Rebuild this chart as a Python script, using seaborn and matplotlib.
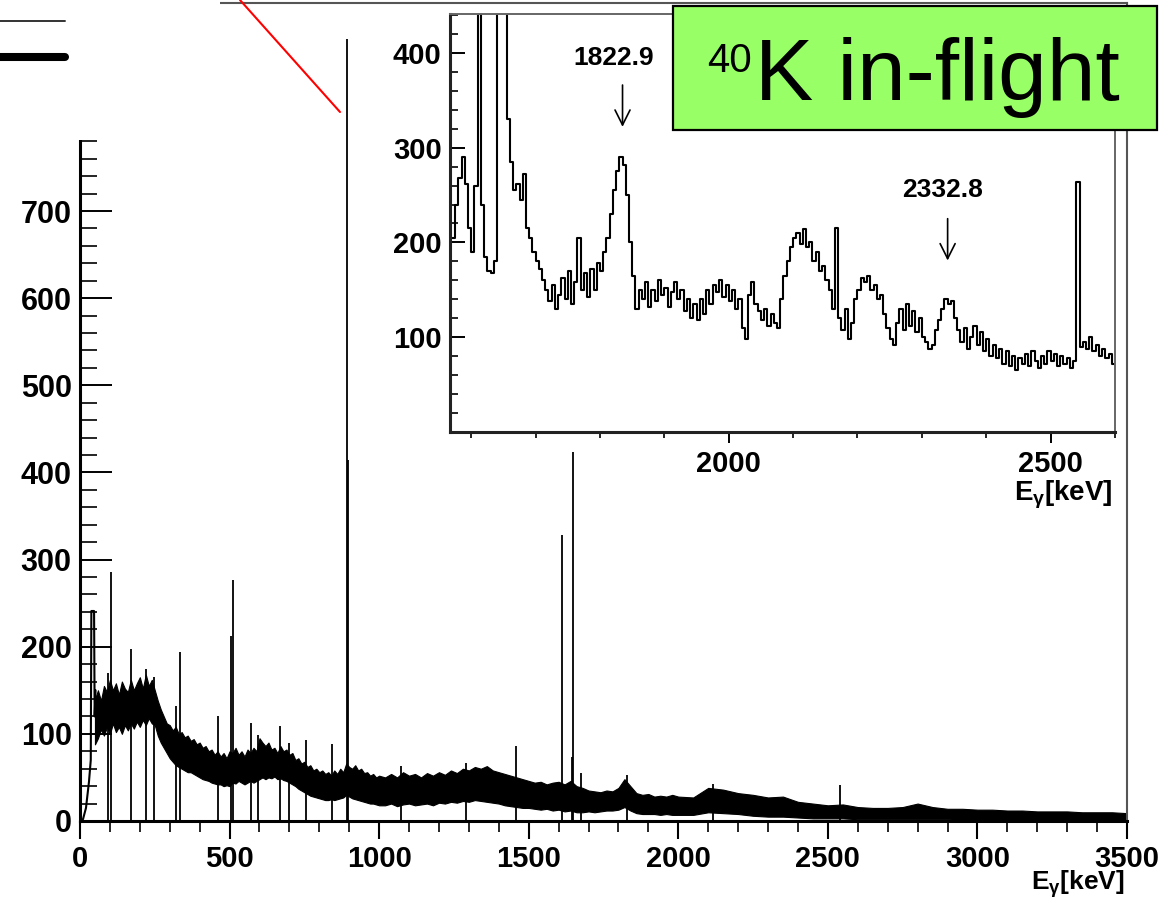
import numpy as np
import pandas as pd
import matplotlib
matplotlib.use('Agg')
import matplotlib.pyplot as plt
import seaborn as sns
from matplotlib.patches import Rectangle
from matplotlib.lines import Line2D
from matplotlib.ticker import MultipleLocator, FixedLocator

W, H = 1168, 899

# main spectrum, read as the lower / upper edge of the noise band (keV, counts)
band_e = [50, 60, 70, 80, 90, 100, 110, 120, 130, 140, 150, 160, 170, 180, 190,
          200, 210, 220, 230, 240, 250, 260, 270, 280, 290, 300, 310, 320, 330, 340,
          350, 360, 370, 380, 390, 400, 410, 420, 430, 440, 450, 460, 470, 480, 490,
          500, 510, 520, 530, 540, 550, 560, 570, 580, 590, 600, 610, 620, 630, 640,
          650, 660, 670, 680, 690, 700, 710, 720, 730, 740, 750, 760, 770, 780, 790,
          800, 810, 820, 830, 840, 850, 860, 870, 880, 890, 900, 910, 920, 930, 940,
          950, 960, 970, 980, 990, 1000,
          1020, 1040, 1060, 1080, 1100, 1120, 1140, 1160, 1180, 1200,
          1220, 1240, 1260, 1280, 1300, 1320, 1340, 1360, 1380, 1400,
          1420, 1440, 1460, 1480, 1500, 1520, 1540, 1560, 1580, 1600,
          1620, 1640, 1660, 1680, 1700, 1720, 1740, 1760, 1780, 1800,
          1820, 1840, 1860, 1880, 1900, 1920, 1940, 1960, 1980, 2000,
          2050, 2100, 2150, 2200, 2250, 2300, 2350, 2400, 2450, 2500,
          2550, 2600, 2650, 2700, 2750, 2800, 2850, 2900, 2950, 3000,
          3050, 3100, 3150, 3200, 3250, 3300, 3350, 3400, 3450, 3500]
band_hi = [140, 150, 138, 155, 148, 162, 150, 158, 145, 160, 152, 148, 162, 150, 158,
           165, 152, 168, 155, 162, 150, 138, 128, 120, 112, 110, 104, 108, 100, 102,
           96, 98, 92, 94, 88, 90, 84, 86, 80, 82, 76, 80, 74, 78, 72,
           80, 78, 84, 76, 80, 74, 82, 78, 84, 80, 95, 90, 86, 90, 82,
           84, 78, 86, 80, 82, 76, 78, 70, 72, 66, 68, 62, 64, 58, 60,
           56, 58, 54, 56, 52, 58, 54, 60, 56, 66, 62, 60, 64, 58, 60,
           55, 56, 52, 54, 50, 52,
           50, 54, 50, 56, 52, 54, 50, 55, 52, 56,
           53, 58, 55, 60, 58, 62, 60, 63, 58, 56,
           54, 52, 50, 48, 46, 44, 45, 42, 44, 45,
           42, 46, 40, 38, 35, 34, 33, 35, 34, 38,
           48, 40, 32, 30, 31, 28, 29, 28, 30, 28,
           27, 38, 36, 32, 30, 27, 28, 22, 20, 18,
           19, 16, 15, 15, 16, 20, 16, 14, 14, 13,
           13, 12, 12, 11, 11, 11, 10, 10, 10, 9]
band_lo = [88, 95, 105, 98, 108, 100, 112, 102, 108, 100, 110, 104, 112, 106, 114,
           108, 116, 110, 118, 112, 110, 98, 90, 84, 78, 72, 68, 64, 62, 60,
           58, 56, 56, 54, 52, 50, 48, 47, 46, 44, 43, 42, 42, 40, 41,
           40, 44, 43, 46, 44, 42, 44, 46, 44, 46, 48, 50, 48, 50, 49,
           51, 48, 49, 47, 46, 44, 42, 40, 37, 35, 33, 31, 29, 28, 27,
           26, 25, 24, 24, 25, 24, 25, 26, 27, 30, 28, 26, 25, 24, 23,
           22, 21, 20, 20, 19, 18,
           18, 20, 17, 19, 20, 18, 19, 20, 18, 21,
           20, 22, 21, 23, 22, 24, 23, 22, 21, 20,
           18, 17, 16, 15, 15, 14, 13, 14, 12, 13,
           11, 12, 10, 10, 11, 10, 11, 12, 12, 13,
           16, 12, 9, 8, 8, 8, 7, 8, 7, 7,
           7, 10, 9, 8, 6, 5, 5, 4, 3, 3,
           3, 2, 2, 2, 2, 2, 2, 2, 1, 1,
           1, 1, 1, 1, 1, 1, 1, 1, 1, 1]

# low-energy threshold edge of the main spectrum
thr_e = [0, 10, 20, 30, 36, 38, 47, 49, 52]
thr_c = [0, 2, 15, 45, 70, 241, 241, 120, 150]

# sharp lines sticking out of the band (keV, counts)
peak_e = [95, 105, 169, 221, 249, 322, 334, 460, 504, 511, 572, 596, 670, 697,
          755, 844, 893, 897, 1072, 1292, 1457, 1611, 1644, 1648, 1675, 1828,
          2115, 2541]
peak_h = [170, 286, 197, 174, 165, 132, 194, 120, 212, 276, 113, 99, 109, 90,
          93, 88, 897, 414, 63, 67, 86, 328, 74, 423, 55, 53,
          42, 41]

# inset spectrum, 5 keV bins starting at 1570 keV
inset_start = 1570
inset_bin = 5
inset_counts = [
    205, 240, 268, 290, 262, 215, 190, 260, 900, 240,
    185, 170, 168, 180, 600, 900, 800, 330, 285, 255,
    262, 245, 272, 215, 205, 190, 180, 172, 160, 150,
    138, 155, 130, 145, 162, 140, 170, 135, 158, 205,
    150, 168, 142, 172, 150, 178, 170, 190, 205, 230,
    255, 275, 290, 282, 250, 200, 165, 130, 150, 140,
    158, 132, 150, 138, 160, 145, 152, 132, 148, 158,
    140, 150, 128, 140, 120, 135, 118, 140, 125, 150,
    135, 155, 148, 160, 142, 155, 138, 150, 130, 140,
    110, 98, 145, 158, 135, 128, 118, 130, 112, 125,
    115, 110, 140, 165, 180, 195, 205, 210, 198, 214,
    195, 200, 180, 190, 170, 175, 160, 150, 130, 215,
    120, 108, 130, 98, 115, 140, 150, 162, 158, 165,
    150, 155, 140, 145, 125, 110, 98, 92, 115, 130,
    108, 135, 112, 128, 105, 120, 100, 95, 88, 92,
    108, 118, 130, 140, 135, 138, 120, 108, 95, 110,
    88, 100, 112, 92, 105, 85, 98, 80, 92, 78,
    88, 72, 85, 70, 80, 65, 78, 72, 82, 70,
    85, 75, 68, 80, 72, 85, 75, 82, 70, 80,
    72, 78, 68, 75, 264, 90, 95, 88, 100, 85,
    92, 80, 88, 78, 82, 72]

arrow_labels = ['1822.9', '2332.8']
arrow_e = [1835, 2340]
arrow_top = [369, 228]
arrow_tip = [319, 178]
label_e = [1822, 2332]
label_c = [395, 255]

sns.set_theme(style='ticks')
plt.rcParams['font.family'] = ['Liberation Sans', 'DejaVu Sans']
plt.rcParams['font.weight'] = 'bold'
plt.rcParams['text.color'] = 'black'
plt.rcParams['axes.labelcolor'] = 'black'
plt.rcParams['xtick.color'] = 'black'
plt.rcParams['ytick.color'] = 'black'
plt.rcParams['mathtext.fontset'] = 'custom'
plt.rcParams['mathtext.rm'] = 'Liberation Sans:bold'
plt.rcParams['mathtext.it'] = 'Liberation Sans:bold'
plt.rcParams['mathtext.bf'] = 'Liberation Sans:bold'


def fx(px):
    return px / W


def fy(py):
    return 1 - py / H


fig = plt.figure(figsize=(W / 100, H / 100), dpi=100)
fig.patch.set_facecolor('white')

# ---- main spectrum
ax = fig.add_axes([fx(80), fy(821), fx(1127) - fx(80), fy(3) - fy(821)])
ax.set_facecolor('white')
ax.fill_between(band_e, band_lo, band_hi, color='black', lw=0.8)
sns.lineplot(x=thr_e, y=thr_c, ax=ax, color='black', lw=1.5, estimator=None, sort=False)
ax.vlines(peak_e, 0, peak_h, color='black', lw=1.3)
ax.set_xlim(0, 3500)
ax.set_ylim(0, 938.7)
ax.xaxis.set_major_locator(MultipleLocator(500))
ax.xaxis.set_minor_locator(MultipleLocator(100))
ax.yaxis.set_major_locator(MultipleLocator(100))
ax.yaxis.set_minor_locator(MultipleLocator(20))
ax.tick_params(axis='y', which='major', direction='in', length=23, width=1.4, pad=6, labelsize=22)
ax.tick_params(axis='y', which='minor', direction='in', length=12, width=1.2)
ax.tick_params(axis='x', which='major', direction='out', length=13, width=1.5, pad=4, labelsize=21)
ax.tick_params(axis='x', which='minor', direction='out', length=8, width=1.2)
for s in ['left', 'bottom']:
    ax.spines[s].set_linewidth(2.2)
    ax.spines[s].set_color('black')
for s in ['top', 'right']:
    ax.spines[s].set_linewidth(1.5)
    ax.spines[s].set_color('#555555')
ax.set_xlabel('')
ax.set_ylabel('')

# ---- inset
ax_in = fig.add_axes([fx(450), fy(432), fx(1115) - fx(450), fy(14) - fy(432)])
ax_in.set_zorder(2)
ax_in.set_facecolor('white')
edges = inset_start + inset_bin * np.arange(len(inset_counts) + 1)
df_in = pd.DataFrame({'E': edges, 'N': inset_counts + [inset_counts[-1]]})
sns.lineplot(data=df_in, x='E', y='N', ax=ax_in, color='black', lw=1.5,
             drawstyle='steps-post', estimator=None, sort=False)
ax_in.set_xlim(1567, 2600)
ax_in.set_ylim(0, 441)
ax_in.xaxis.set_major_locator(FixedLocator([2000, 2500]))
ax_in.xaxis.set_minor_locator(MultipleLocator(100))
ax_in.yaxis.set_major_locator(FixedLocator([100, 200, 300, 400]))
ax_in.yaxis.set_minor_locator(MultipleLocator(20))
ax_in.tick_params(axis='y', which='major', direction='in', length=11, width=1.4, pad=6, labelsize=21)
ax_in.tick_params(axis='y', which='minor', direction='in', length=6, width=1.2)
ax_in.tick_params(axis='x', which='major', direction='out', length=8, width=1.4, pad=5, labelsize=21)
ax_in.tick_params(axis='x', which='minor', direction='out', length=4.5, width=1.2)
for s in ['left', 'bottom']:
    ax_in.spines[s].set_linewidth(2.2)
    ax_in.spines[s].set_color('#222222')
for s in ['top', 'right']:
    ax_in.spines[s].set_linewidth(1.4)
    ax_in.spines[s].set_color('#666666')
ax_in.set_xlabel('')
ax_in.set_ylabel('')

for lab, e, top, tip, le, lc in zip(arrow_labels, arrow_e, arrow_top, arrow_tip, label_e, label_c):
    ax_in.annotate('', xy=(e, tip), xytext=(e, top),
                   arrowprops=dict(arrowstyle='->,head_length=0.9,head_width=0.45',
                                   color='black', lw=1.2))
    ax_in.text(le, lc, lab, ha='center', va='center', fontsize=19, fontweight='bold')

# axis titles
fig.text(fx(1125), fy(884), r'E$_\gamma$[keV]', ha='right', va='center', fontsize=19, fontweight='bold')
fig.text(fx(1113), fy(495), r'E$_\gamma$[keV]', ha='right', va='center', fontsize=20, fontweight='bold', zorder=5)

# cropped legend corner from the original figure
fig.patches.append(Rectangle((0, fy(140)), fx(220), 140 / H, transform=fig.transFigure,
                             facecolor='white', edgecolor='none', zorder=5))
fig.lines.append(Line2D([0, fx(65)], [fy(21), fy(21)], transform=fig.transFigure,
                        color='#333333', lw=1.4, zorder=6))
fig.lines.append(Line2D([0, fx(65)], [fy(57), fy(57)], transform=fig.transFigure,
                        color='black', lw=5.8, zorder=6))
fig.lines.append(Line2D([fx(240), fx(340)], [fy(0), fy(112)], transform=fig.transFigure,
                        color='red', lw=1.5, zorder=6))

# green label box
fig.patches.append(Rectangle((fx(673), fy(130)), fx(1157) - fx(673), (130 - 6) / H,
                             transform=fig.transFigure, facecolor='#99ff66',
                             edgecolor='black', lw=1.6, zorder=7))
fig.text(fx(707), fy(72), '40', ha='left', va='baseline', fontsize=29,
         fontweight='normal', zorder=8)
fig.text(fx(755), fy(100), 'K in-flight', ha='left', va='baseline', fontsize=63,
         fontweight='normal', zorder=8)

fig.savefig('out.png', dpi=100)
